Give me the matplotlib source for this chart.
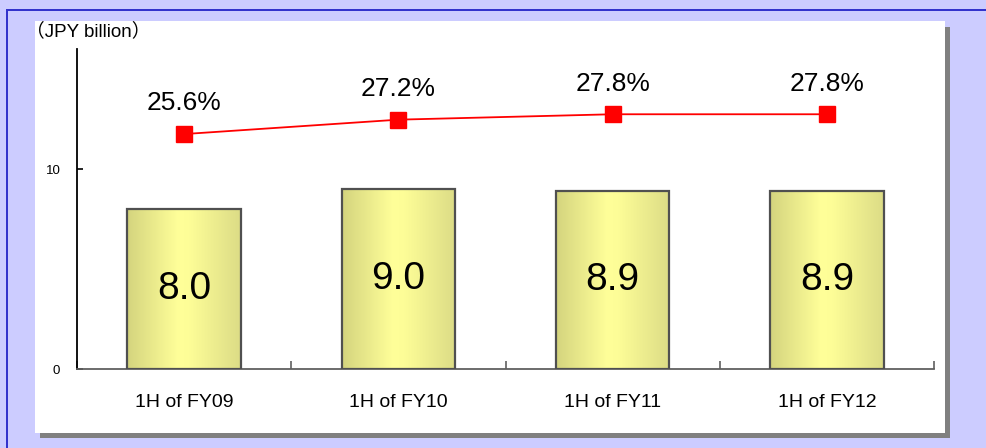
import matplotlib
matplotlib.use("Agg")
import matplotlib.pyplot as plt
import numpy as np
from matplotlib.patches import Rectangle
from matplotlib.colors import LinearSegmentedColormap

# Data
categories = ["1H of FY09", "1H of FY10", "1H of FY11", "1H of FY12"]
sales = [8.0, 9.0, 8.9, 8.9]            # JPY billion
ratio = [25.6, 27.2, 27.8, 27.8]        # percent
yticks = [0, 10]
unit_label = "（JPY billion）"

W, H = 986, 448
fig = plt.figure(figsize=(W / 100, H / 100), dpi=100)
fig.patch.set_facecolor("#CCCCFF")

def px_rect(x0, y0, x1, y1, **kw):
    """Rectangle in figure pixel coordinates (origin top-left)."""
    r = Rectangle((x0 / W, 1 - y1 / H), (x1 - x0) / W, (y1 - y0) / H,
                  transform=fig.transFigure, **kw)
    fig.patches.append(r)

# outer blue frame lines
px_rect(6, 9, W, 11, facecolor="#3333CC", edgecolor="none", zorder=0)
px_rect(6, 9, 8, H, facecolor="#3333CC", edgecolor="none", zorder=0)
# panel shadow and white panel
px_rect(40, 27, 950, 438, facecolor="#808080", edgecolor="none", zorder=0)
px_rect(35, 21, 945, 433, facecolor="white", edgecolor="none", zorder=0)

ax = fig.add_axes([77 / W, 1 - 369 / H, (934 - 77) / W, (369 - 49) / H])
ax.set_facecolor("none")
ax.set_zorder(2)

x = np.arange(len(categories))
ax.set_xlim(-0.5, len(categories) - 0.5)
ax.set_ylim(0, 16)

bar_w = 0.53
grad = LinearSegmentedColormap.from_list(
    "barfill", [(0.0, "#D4D47E"), (0.45, "#FFFF99"), (0.55, "#FDFD97"), (1.0, "#DCDC86")])
gimg = np.linspace(0, 1, 256).reshape(1, -1)

num_font = ["Liberation Sans", "DejaVu Sans"]

bars = ax.bar(x, sales, width=bar_w, facecolor="none", edgecolor="#505050",
              linewidth=1.6, zorder=3)
for b, v in zip(bars, sales):
    x0, w, h = b.get_x(), b.get_width(), b.get_height()
    im = ax.imshow(gimg, cmap=grad, aspect="auto", extent=(x0, x0 + w, 0, h),
                   zorder=2, interpolation="bicubic")
    im.set_clip_path(b)
    ax.text(b.get_x() + w / 2, h / 2, f"{v:.1f}", ha="center", va="center",
            fontsize=28, family=num_font, zorder=4)

# axes styling
for s in ("top", "right"):
    ax.spines[s].set_visible(False)
ax.spines["left"].set_color("black")
ax.spines["left"].set_linewidth(1.3)
ax.spines["bottom"].set_color("#606060")
ax.spines["bottom"].set_linewidth(1.3)

ax.set_yticks(yticks)
ax.tick_params(axis="y", direction="in", length=4, width=1.2, labelsize=9.5,
               pad=12, color="black")
ax.set_xticks(np.arange(len(categories) + 1) - 0.5, minor=True)
ax.set_xticks(x)
ax.set_xticklabels(categories, fontsize=14, family=["Liberation Sans", "DejaVu Sans"])
ax.tick_params(axis="x", which="major", length=0, pad=18)
ax.tick_params(axis="x", which="minor", direction="in", length=6, width=1.2,
               color="#606060")
for lab in ax.get_yticklabels():
    lab.set_family(["Liberation Sans", "DejaVu Sans"])

# ratio line on secondary scale
ax2 = ax.twinx()
ax2.set_zorder(3)
ax2.set_facecolor("none")
ax2.set_ylim(-0.5, 35.05)
ax2.axis("off")
ax2.plot(x, ratio, color="#FF0000", linewidth=1.3, marker="s", markersize=11,
         markerfacecolor="#FF0000", markeredgecolor="#FF0000", zorder=5)
for xi, r in zip(x, ratio):
    ax2.annotate(f"{r:.1f}%", (xi, r), xytext=(0, 17), textcoords="offset points",
                 ha="center", va="baseline", fontsize=19, family=num_font)

fig.text(26 / W, 1 - 31 / H, unit_label, ha="left", va="center", fontsize=13.5,
         family=["Liberation Sans", "Noto Sans CJK JP"])

fig.savefig("out.png", dpi=100, facecolor=fig.get_facecolor())
